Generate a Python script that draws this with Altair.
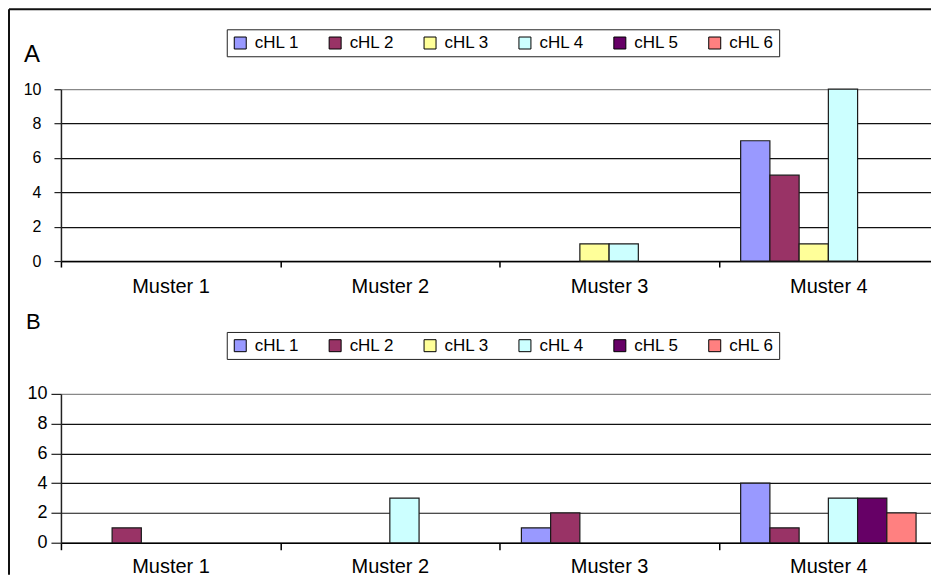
import altair as alt
import pandas as pd

muster = ["Muster 1", "Muster 2", "Muster 3", "Muster 4"]
series = ["cHL 1", "cHL 2", "cHL 3", "cHL 4", "cHL 5", "cHL 6"]
colors = ["#9999FF", "#993366", "#FFFF99", "#CCFFFF", "#660066", "#FF8080"]

# Panel A values per series (Muster 1..4)
a_chl1 = [0, 0, 0, 7]
a_chl2 = [0, 0, 0, 5]
a_chl3 = [0, 0, 1, 1]
a_chl4 = [0, 0, 1, 10]
a_chl5 = [0, 0, 0, 0]
a_chl6 = [0, 0, 0, 0]

# Panel B values per series (Muster 1..4)
b_chl1 = [0, 0, 1, 4]
b_chl2 = [1, 0, 2, 1]
b_chl3 = [0, 0, 0, 0]
b_chl4 = [0, 3, 0, 3]
b_chl5 = [0, 0, 0, 3]
b_chl6 = [0, 0, 0, 2]

y_ticks = [0, 2, 4, 6, 8, 10]
panel_labels = ["A", "B"]

FONT = "Liberation Sans"
W = 878


def make_df(cols):
    rows = []
    for s, vals in zip(series, cols):
        for m, v in zip(muster, vals):
            rows.append({"muster": m, "series": s, "value": v})
    return pd.DataFrame(rows)


def panel(cols, label, height, yfs, ytick, ylabpad, xfs, xtick, xlabpad,
          leg_x, leg_y, lab_x, lab_y, lab_fs, frame=False):
    df = make_df(cols)
    bars = alt.Chart(df).transform_filter("datum.value > 0").mark_bar(
        stroke="#1a1a1a", strokeWidth=1.2
    ).encode(
        x=alt.X("muster:N", sort=muster,
                scale=alt.Scale(domain=muster, paddingInner=0, paddingOuter=0),
                axis=alt.Axis(title=None, labelAngle=0, tickBand="extent",
                              tickSize=xtick, labelPadding=xlabpad,
                              labelFontSize=xfs, grid=False,
                              domainColor="black", tickColor="black",
                              domainWidth=1.5, tickWidth=1.5)),
        xOffset=alt.XOffset("series:N",
                            scale=alt.Scale(domain=series, paddingInner=0, paddingOuter=0.75)),
        y=alt.Y("value:Q", scale=alt.Scale(domain=[0, 10], nice=False),
                axis=alt.Axis(title=None, values=y_ticks, labelFontSize=yfs,
                              tickSize=ytick, labelPadding=ylabpad,
                              domainColor="#222222", domainWidth=1.5,
                              tickColor="#222222", tickWidth=1.2,
                              gridColor=alt.condition("datum.value == 10",
                                                      alt.value("#888888"),
                                                      alt.value("#111111")),
                              gridWidth=1.2)),
        color=alt.Color("series:N", scale=alt.Scale(domain=series, range=colors),
                        legend=alt.Legend(title=None, orient="none",
                                          legendX=leg_x, legendY=leg_y,
                                          direction="horizontal", columns=6,
                                          symbolType="square", symbolSize=144,
                                          symbolStrokeColor="black",
                                          symbolStrokeWidth=1,
                                          symbolOpacity=1,
                                          labelFontSize=17, labelFont=FONT,
                                          labelColor="black",
                                          columnPadding=27, labelOffset=6,
                                          padding=5, strokeColor="#222222",
                                          fillColor="white")),
    )
    lab = alt.Chart(pd.DataFrame({"t": [label]})).mark_text(
        align="left", baseline="alphabetic", fontSize=lab_fs, font=FONT, color="black"
    ).encode(text="t:N", x=alt.value(lab_x), y=alt.value(lab_y))
    layers = [bars, lab]
    if frame:
        fdf = pd.DataFrame({"k": [0]})
        top = alt.Chart(fdf).mark_rule(color="#111111", strokeWidth=2).encode(
            x=alt.value(-52), x2=alt.value(W), y=alt.value(-80))
        left = alt.Chart(fdf).mark_rule(color="#111111", strokeWidth=2).encode(
            x=alt.value(-52), y=alt.value(-80), y2=alt.value(486))
        layers += [top, left]
    return alt.layer(*layers).properties(width=W, height=height)


pa = panel([a_chl1, a_chl2, a_chl3, a_chl4, a_chl5, a_chl6], panel_labels[0],
           172, 16, 7, 13, 20, 6, 9, 166, -60, -37, -27, 24, frame=True)
pb = panel([b_chl1, b_chl2, b_chl3, b_chl4, b_chl5, b_chl6], panel_labels[1],
           149, 18, 10, 4, 20, 7, 7, 166, -62, -35, -65, 22)

chart = alt.vconcat(pa, pb, spacing=133, bounds="flush").resolve_legend(
    color="independent"
).configure(
    padding={"left": 0, "top": 0, "right": -8, "bottom": 0}, font=FONT
).configure_view(stroke=None).configure_axis(
    labelFont=FONT, labelColor="black"
)

chart.save("out.html", embed_options={"renderer": "svg", "actions": False})
